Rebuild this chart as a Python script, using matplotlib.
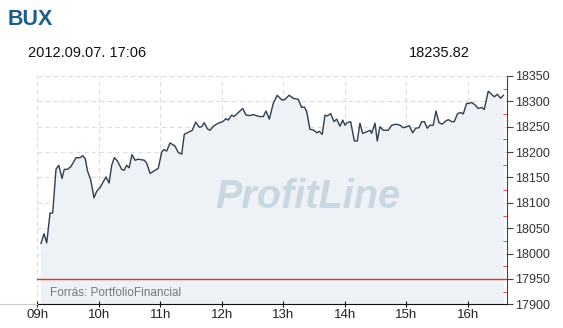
import matplotlib.pyplot as plt
from matplotlib.lines import Line2D

plt.rcParams['font.family'] = ['Liberation Sans', 'DejaVu Sans']

# BUX intraday, minutes after 09:00
minutes = [3.6, 6.5, 9.2, 12.4, 15.0, 18.2, 20.9, 24.1, 26.3, 29.3, 32.6, 37.8, 41.7, 44.3,
           46.8, 48.8, 52.1, 55.3, 58.0, 61.2, 67.0, 70.0, 72.6, 75.1, 78.0, 82.3, 84.6, 87.2,
           89.5, 92.4, 95.3, 98.5, 104.4, 106.7, 110.0, 114.8, 118.0, 121.4, 123.6, 126.2,
           129.5, 134.3, 137.6, 140.9, 143.4, 147.3, 151.2, 154.5, 158.0, 160.4, 162.9, 165.9,
           168.5, 172.4, 176.6, 180.9, 184.1, 186.3, 189.7, 191.9, 195.1, 200.4, 203.6, 207.5,
           210.7, 213.4, 217.3, 220.5, 223.1, 226.4, 230.2, 234.1, 238.4, 241.0, 245.8, 249.8,
           254.6, 257.9, 260.5, 262.8, 266.0, 269.9, 272.6, 275.1, 278.0, 280.7, 282.9, 286.2,
           289.5, 292.1, 295.3, 298.0, 300.2, 302.4, 305.7, 309.3, 312.2, 314.8, 317.4, 321.4,
           324.6, 326.2, 329.5, 331.7, 334.3, 337.6, 342.4, 345.8, 349.9, 353.8, 357.1, 360.4,
           362.9, 366.2, 369.2, 372.4, 375.0, 377.6, 380.5, 383.1, 386.3, 389.0, 391.9, 395.1,
           398.4, 401.0, 404.3, 406.8, 410.1, 413.4, 415.6, 418.9, 421.5, 423.8, 427.1, 430.2,
           433.6, 436.1, 440.0, 443.3, 445.9, 448.8, 452.1, 454.7]
bux = [18020, 18039, 18021, 18080, 18080, 18166, 18174, 18148, 18166, 18166, 18171, 18189,
       18189, 18193, 18187, 18164, 18145, 18110, 18123, 18130, 18151, 18139, 18174, 18189,
       18183, 18166, 18164, 18174, 18169, 18195, 18184, 18186, 18184, 18178, 18158, 18164,
       18168, 18200, 18205, 18202, 18218, 18212, 18199, 18196, 18235, 18239, 18243, 18259,
       18249, 18250, 18258, 18246, 18243, 18252, 18257, 18260, 18266, 18263, 18273, 18270,
       18276, 18286, 18273, 18272, 18274, 18272, 18270, 18270, 18281, 18265, 18296, 18312,
       18303, 18303, 18312, 18306, 18304, 18288, 18289, 18280, 18245, 18243, 18238, 18241,
       18235, 18273, 18271, 18276, 18260, 18265, 18251, 18263, 18253, 18258, 18260, 18222,
       18222, 18257, 18237, 18240, 18243, 18237, 18257, 18222, 18250, 18243, 18243, 18253,
       18255, 18253, 18248, 18250, 18252, 18238, 18247, 18248, 18260, 18260, 18247, 18253,
       18253, 18281, 18258, 18255, 18261, 18264, 18260, 18260, 18276, 18278, 18275, 18296,
       18296, 18298, 18293, 18286, 18288, 18284, 18320, 18314, 18309, 18314, 18306, 18312]
prev_close = 17950
hour_labels = ['09h', '10h', '11h', '12h', '13h', '14h', '15h', '16h']
y_ticks = [17900, 17950, 18000, 18050, 18100, 18150, 18200, 18250, 18300, 18350]

fig = plt.figure(figsize=(5.63, 3.28), dpi=100)
ax = fig.add_axes([0.0663, 0.0723, 0.8337, 0.696])

ax.set_xlim(0, 458)
ax.set_ylim(17900, 18350)

# grid
for h in range(len(hour_labels)):
    ax.axvline(h * 60, color='#dddddd', lw=0.8, ls=(0, (4, 3)), zorder=0)
for v in y_ticks[1:]:
    ax.axhline(v, color='#dddddd', lw=0.8, ls=(0, (4, 3)), zorder=0)

ax.fill_between(minutes, bux, 17900, color='#eef2f6', zorder=1)
ax.plot(minutes, bux, color='#2f3f4f', lw=1.0, zorder=3)
ax.axhline(prev_close, color='#dd3333', lw=1.0, zorder=2)

ax.text(0.577, 0.47, 'ProfitLine', transform=ax.transAxes, ha='center', va='center',
        fontsize=28.5, fontweight='bold', fontstyle='italic', color='#c9d7e3', zorder=2)
ax.text(12, 17917, 'Forrás: PortfolioFinancial', fontsize=8.5, color='#777777', zorder=4)

# axes styling
for s in ['left', 'top']:
    ax.spines[s].set_visible(False)
ax.spines['bottom'].set_color('#111111')
ax.spines['right'].set_color('#444444')
ax.yaxis.tick_right()
ax.set_yticks(y_ticks)
ax.set_yticks([v + 25 for v in y_ticks[:-1]], minor=True)
ax.tick_params(axis='y', which='major', direction='out', length=4, color='#444444',
               labelsize=9, labelcolor='#333333', pad=2)
ax.tick_params(axis='y', which='minor', direction='in', length=3, color='#dd3333')
ax.set_xticks([h * 60 for h in range(len(hour_labels))])
ax.set_xticklabels(hour_labels)
ax.tick_params(axis='x', direction='inout', length=5, color='#111111',
               labelsize=9.5, labelcolor='#222222', pad=1)

fig.add_artist(Line2D([0, 0.0663], [0.0723, 0.0723], color='#cccccc', lw=0.8))

fig.text(0.014, 0.94, 'BUX', fontsize=15.5, fontweight='bold', color='#1b5e8c', va='center')
fig.text(0.05, 0.838, '2012.09.07. 17:06', fontsize=10.5, color='#111111', va='center')
fig.text(0.835, 0.838, '18235.82', fontsize=10.5, color='#111111', va='center', ha='right')

fig.savefig('out.png', dpi=100)
